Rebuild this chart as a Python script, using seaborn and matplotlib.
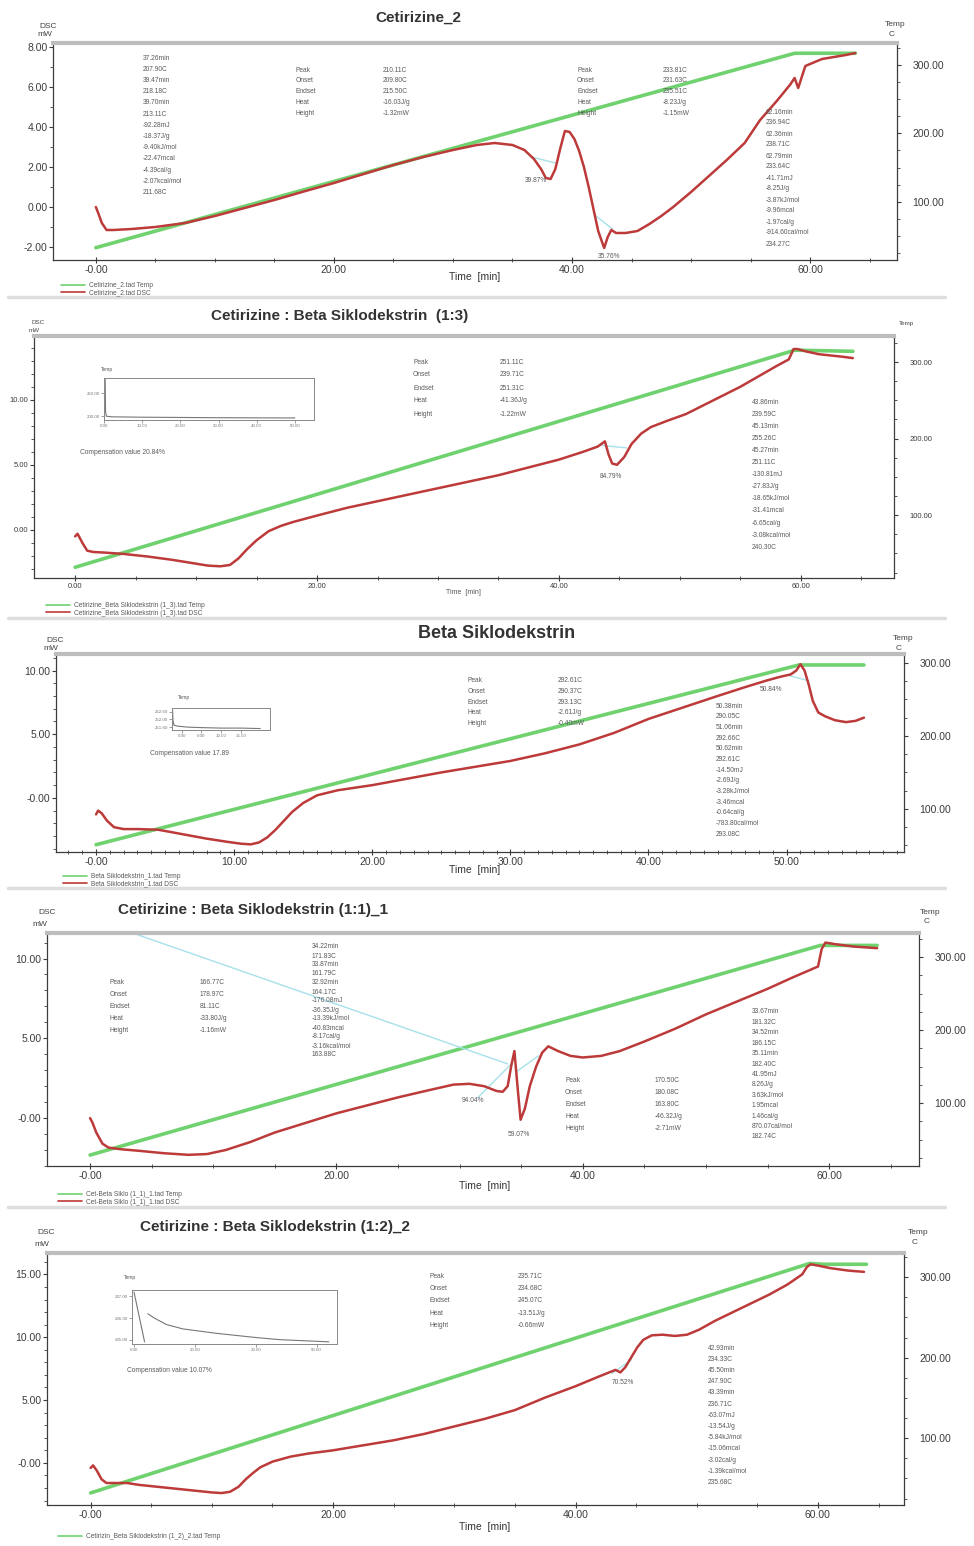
import matplotlib
matplotlib.use("Agg")
import matplotlib.pyplot as plt
import seaborn as sns
from matplotlib.lines import Line2D
from matplotlib.ticker import MultipleLocator

# ---------------------------------------------------------------- data
# Cetirizine_2
p1_t = [0.0, 0.2, 0.5, 0.9, 1.5, 3, 5, 7.5, 10, 12.5, 15, 17.5, 20, 22.5, 25, 27.5, 30, 32,
        33.5, 35, 36, 36.8, 37.4, 37.8, 38.2, 38.6, 39.0, 39.4, 39.8, 40.2, 40.6, 41.0, 41.4,
        41.8, 42.2, 42.7, 43.0, 43.3, 43.7, 44.5, 45.5, 46.5, 47.5, 48.5, 50, 51.5, 53, 54.5,
        55.8, 57.2, 58.3, 58.7, 59.0, 59.6, 60.2, 61, 62, 63, 63.8]
p1_mw = [0.0, -0.3, -0.8, -1.15, -1.15, -1.1, -1.0, -0.8, -0.45, -0.05, 0.35, 0.78, 1.2, 1.65,
         2.1, 2.5, 2.85, 3.1, 3.2, 3.1, 2.85, 2.4, 1.9, 1.45, 1.4, 1.9, 2.9, 3.8, 3.75, 3.4,
         2.8, 2.0, 1.0, -0.1, -1.2, -2.05, -1.5, -1.15, -1.3, -1.3, -1.2, -0.85, -0.45, 0.0,
         0.75, 1.55, 2.35, 3.2, 4.35, 5.3, 6.1, 6.45, 5.95, 7.05, 7.2, 7.4, 7.5, 7.6, 7.7]
p1_tt = [0.0, 58.7, 63.8]
p1_temp = [33.0, 317.0, 317.0]

# Cetirizine : Beta Siklodekstrin (1:3)
p2_t = [0, 0.2, 0.6, 1.0, 1.5, 2.5, 4, 6, 8, 10, 11, 12, 12.8, 13.5, 14.2, 15, 16, 17, 18, 20,
        22.5, 25, 27.5, 30, 32.5, 35, 37.5, 40, 42, 43.2, 43.8, 44.1, 44.4, 44.8, 45.4, 46,
        46.8, 47.6, 49, 50.5, 52, 53.5, 55, 56.5, 58, 59.0, 59.4, 59.7, 60.5, 61.5, 62.5, 63.5,
        64.3]
p2_mw = [-0.5, -0.3, -1.0, -1.6, -1.7, -1.75, -1.85, -2.05, -2.3, -2.6, -2.75, -2.8, -2.7,
         -2.2, -1.5, -0.8, -0.1, 0.3, 0.6, 1.1, 1.7, 2.2, 2.7, 3.2, 3.7, 4.2, 4.8, 5.4, 6.0, 6.4,
         6.8, 5.8, 5.1, 5.0, 5.6, 6.6, 7.4, 7.9, 8.4, 8.9, 9.6, 10.3, 11.0, 11.8, 12.6, 13.1,
         13.9, 13.9, 13.7, 13.5, 13.4, 13.3, 13.2]
p2_tt = [0.0, 59.5, 64.3]
p2_temp = [32.0, 315.5, 314.0]

# Beta Siklodekstrin
p3_t = [0, 0.15, 0.4, 0.8, 1.3, 2, 3, 4.5, 6, 8, 9.5, 10.5, 11.2, 11.8, 12.4, 13, 13.6, 14.2,
        15, 16, 17.5, 20, 22.5, 25, 27.5, 30, 32.5, 35, 37.5, 40, 42.5, 45, 47, 48.5, 49.5,
        50.3, 50.7, 51.0, 51.3, 51.6, 51.9, 52.3, 52.8, 53.5, 54.3, 55.0, 55.6]
p3_mw = [-1.3, -1.0, -1.2, -1.8, -2.3, -2.45, -2.45, -2.5, -2.8, -3.2, -3.45, -3.6, -3.65,
         -3.5, -3.1, -2.5, -1.8, -1.1, -0.4, 0.2, 0.6, 1.0, 1.5, 2.0, 2.45, 2.9, 3.5, 4.2, 5.1,
         6.2, 7.1, 8.0, 8.7, 9.2, 9.5, 9.7, 10.0, 10.5, 10.0, 8.9, 7.6, 6.7, 6.4, 6.1, 5.95,
         6.05, 6.3]
p3_tt = [0.0, 50.9, 55.6]
p3_temp = [51.0, 297.0, 297.0]

# Cetirizine : Beta Siklodekstrin (1:1)_1
p4_t = [0, 0.2, 0.5, 1.0, 1.5, 2.5, 4, 6, 8, 9.5, 11, 13, 15, 17.5, 20, 22.5, 25, 27.5, 29.5,
        30.8, 32, 33, 33.5, 33.9, 34.2, 34.45, 34.7, 34.95, 35.3, 35.7, 36.2, 36.7, 37.2, 38,
        39, 40, 41.5, 43, 45, 47.5, 50, 52.5, 55, 57, 58.5, 59.1, 59.4, 59.7, 60.5, 62, 63.9]
p4_mw = [0.0, -0.3, -0.9, -1.6, -1.85, -1.95, -2.05, -2.2, -2.3, -2.25, -2.0, -1.5, -0.9,
         -0.3, 0.3, 0.8, 1.3, 1.75, 2.1, 2.15, 2.0, 1.7, 1.65, 2.0, 3.3, 4.2, 2.0, -0.1, 0.6,
         2.0, 3.2, 4.1, 4.5, 4.2, 3.9, 3.8, 3.9, 4.2, 4.8, 5.6, 6.5, 7.3, 8.1, 8.8, 9.3, 9.5,
         10.6, 11.0, 10.9, 10.75, 10.65]
p4_tt = [0.0, 59.3, 63.9]
p4_temp = [29.0, 316.0, 316.0]

# Cetirizine : Beta Siklodekstrin (1:2)_2
p5_t = [0, 0.2, 0.5, 0.9, 1.3, 2, 3, 4, 5.5, 7, 8.5, 10, 10.8, 11.5, 12.2, 12.8, 13.4, 14, 15,
        16.5, 18, 20, 22.5, 25, 27.5, 30, 32.5, 35, 37.5, 40, 42, 43.3, 43.7, 44.1, 44.6, 45.1,
        45.6, 46.3, 47.2, 48.2, 49.2, 50.2, 51.5, 53, 54.5, 56, 57.5, 58.7, 59.1, 59.4, 60,
        61, 62.5, 63.8]
p5_mw = [-0.4, -0.2, -0.6, -1.3, -1.6, -1.6, -1.6, -1.75, -1.9, -2.05, -2.2, -2.35, -2.4,
         -2.3, -1.9, -1.3, -0.8, -0.35, 0.1, 0.5, 0.75, 1.0, 1.4, 1.8, 2.3, 2.9, 3.5, 4.2, 5.2,
         6.1, 6.9, 7.4, 7.2, 7.6, 8.4, 9.2, 9.8, 10.15, 10.2, 10.1, 10.2, 10.6, 11.3, 12.0,
         12.7, 13.4, 14.2, 15.0, 15.6, 15.8, 15.7, 15.5, 15.3, 15.2]
p5_tt = [0.0, 59.3, 60.5, 64.0]
p5_temp = [32.0, 317.0, 316.0, 316.0]

# integration baselines (time, mW)
p1_base = [([36.6, 38.6], [2.5, 2.2]), ([41.9, 43.4], [-0.4, -1.1])]
p2_base = [([43.4, 45.6], [6.5, 6.3])]
p3_base = [([50.2, 51.6], [9.6, 9.2])]
p4_base = [([3.6, 33.9], [11.56, 3.4]), ([31.5, 34.2], [1.3, 3.4]), ([34.6, 36.4], [2.9, 3.9])]
p5_base = [([43.0, 44.6], [7.1, 8.2])]

titles = ["Cetirizine_2", "Cetirizine : Beta Siklodekstrin  (1:3)", "Beta Siklodekstrin",
          "Cetirizine : Beta Siklodekstrin (1:1)_1", "Cetirizine : Beta Siklodekstrin (1:2)_2"]

legend_labels = [
    ["Cetirizine_2.tad Temp", "Cetirizine_2.tad DSC"],
    ["Cetirizine_Beta Siklodekstrin (1_3).tad Temp", "Cetirizine_Beta Siklodekstrin (1_3).tad DSC"],
    ["Beta Siklodekstrin_1.tad Temp", "Beta Siklodekstrin_1.tad DSC"],
    ["Cet-Beta Siklo (1_1)_1.tad Temp", "Cet-Beta Siklo (1_1)_1.tad DSC"],
    ["Cetirizin_Beta Siklodekstrin (1_2)_2.tad Temp"],
]

peak_keys = ["Peak", "Onset", "Endset", "Heat", "Height"]
p1_peak_a = ["210.11C", "209.80C", "215.50C", "-16.03J/g", "-1.32mW"]
p1_peak_b = ["233.81C", "231.63C", "235.51C", "-8.23J/g", "-1.15mW"]
p1_col_a = ["37.26min", "207.90C", "39.47min", "218.18C", "39.70min", "213.11C", "-92.28mJ",
            "-18.37J/g", "-9.40kJ/mol", "-22.47mcal", "-4.39cal/g", "-2.07kcal/mol", "211.68C"]
p1_col_b = ["62.16min", "236.94C", "62.36min", "238.71C", "62.79min", "233.64C", "-41.71mJ",
            "-8.25J/g", "-3.87kJ/mol", "-9.96mcal", "-1.97cal/g", "-914.60cal/mol", "234.27C"]
p2_peak = ["251.11C", "239.71C", "251.31C", "-41.36J/g", "-1.22mW"]
p2_col = ["43.86min", "239.59C", "45.13min", "255.26C", "45.27min", "251.11C", "-130.81mJ",
          "-27.83J/g", "-18.65kJ/mol", "-31.41mcal", "-6.65cal/g", "-3.08kcal/mol", "240.30C"]
p3_peak = ["292.61C", "290.37C", "293.13C", "-2.61J/g", "-0.40mW"]
p3_col = ["50.38min", "290.05C", "51.06min", "292.66C", "50.62min", "292.61C", "-14.50mJ",
          "-2.69J/g", "-3.28kJ/mol", "-3.46mcal", "-0.64cal/g", "-783.80cal/mol", "293.08C"]
p4_peak_a = ["166.77C", "178.97C", "81.11C", "-33.80J/g", "-1.16mW"]
p4_peak_b = ["170.50C", "180.08C", "163.80C", "-46.32J/g", "-2.71mW"]
p4_col_a = ["34.22min", "171.83C", "33.87min", "161.79C", "32.92min", "164.17C", "-176.08mJ",
            "-36.35J/g", "-13.39kJ/mol", "-40.83mcal", "-8.17cal/g", "-3.16kcal/mol", "163.88C"]
p4_col_b = ["33.67min", "181.32C", "34.52min", "186.15C", "35.11min", "182.40C", "41.95mJ",
            "8.26J/g", "3.63kJ/mol", "1.95mcal", "1.46cal/g", "870.07cal/mol", "182.74C"]
p5_peak = ["235.71C", "234.68C", "245.07C", "-13.51J/g", "-0.66mW"]
p5_col = ["42.93min", "234.33C", "45.50min", "247.90C", "43.39min", "236.71C", "-63.07mJ",
          "-13.54J/g", "-5.84kJ/mol", "-15.06mcal", "-3.02cal/g", "-1.39kcal/mol", "235.68C"]

# small compensation insets (time, temperature)
ins2_t = [0.3, 0.4, 0.6, 2, 10, 20, 30, 40, 50]
ins2_v = [262, 236, 232, 231.5, 231.2, 231.0, 230.8, 230.7, 230.6]
ins3_t = [0.3, 0.5, 1.0, 3, 8, 15, 25, 35, 45]
ins3_v = [252.6, 251.5, 251.0, 250.9, 250.8, 250.75, 250.7, 250.7, 250.65]
ins5_t_a = [0.0, 2.6]
ins5_v_a = [237.2, 234.9]
ins5_t_b = [3.4, 5, 8, 12, 16, 20, 25, 30, 36, 42, 48]
ins5_v_b = [236.2, 236.0, 235.7, 235.5, 235.4, 235.3, 235.2, 235.1, 235.0, 234.95, 234.9]

# ---------------------------------------------------------------- style
sns.set_theme(style="white")
plt.rcParams['font.family'] = ['Liberation Sans', 'DejaVu Sans']

GREEN = '#6fd26f'
RED = '#bd3a3a'
CYAN = '#a6e1ea'
TXT = '#5a5a5a'
AX = '#3c3c3c'

W, H = 974, 1546
fig = plt.figure(figsize=(W / 100, H / 100), dpi=100)
fig.patch.set_facecolor('white')


def fx(x):
    return x / W


def fy(y):
    return 1 - y / H


def ftext(x, y, s, **kw):
    kw.setdefault('fontsize', 4.8)
    kw.setdefault('color', TXT)
    kw.setdefault('va', 'center')
    fig.text(fx(x), fy(y), s, **kw)


def column(x, y0, dy, lines, **kw):
    for i, s in enumerate(lines):
        ftext(x, y0 + i * dy, s, **kw)


def keyed(xk, xv, y0, dy, values, **kw):
    column(xk, y0, dy, peak_keys, **kw)
    column(xv, y0, dy, values, **kw)


def panel(box, t, mw, tt, temp, bases, xlim, ylim, tlim, xt, xl, yt, yl, xminor, yminor,
          labelsize=7.5):
    left, top, right, bottom = box
    ax = fig.add_axes([fx(left), fy(bottom), (right - left) / W, (bottom - top) / H])
    ax2 = ax.twinx()
    sns.lineplot(x=tt, y=temp, ax=ax2, color=GREEN, lw=2.6, estimator=None, legend=False)
    for bx, by in bases:
        sns.lineplot(x=bx, y=by, ax=ax, color=CYAN, lw=1.0, estimator=None, legend=False)
    sns.lineplot(x=t, y=mw, ax=ax, color=RED, lw=1.8, estimator=None, legend=False)
    ax.set_zorder(ax2.get_zorder() + 1)
    ax.patch.set_visible(False)

    ax.set_xlim(*xlim)
    ax.set_ylim(*ylim)
    ax2.set_ylim(*tlim)
    ax.set_xlabel('')
    ax.set_ylabel('')
    ax2.set_ylabel('')

    ax.set_xticks(xt)
    ax.set_xticklabels(xl)
    ax.set_yticks(yt)
    ax.set_yticklabels(yl)
    ax2.set_yticks([100, 200, 300])
    ax2.set_yticklabels(["100.00", "200.00", "300.00"])
    ax.xaxis.set_minor_locator(MultipleLocator(xminor))
    ax.yaxis.set_minor_locator(MultipleLocator(yminor))
    ax2.yaxis.set_minor_locator(MultipleLocator(25))

    for a in (ax, ax2):
        for s in a.spines.values():
            s.set_visible(False)
    for side in ('left', 'bottom'):
        ax.spines[side].set_visible(True)
        ax.spines[side].set_color(AX)
        ax.spines[side].set_linewidth(0.9)
    ax.spines['top'].set_visible(True)
    ax.spines['top'].set_color('#bdbdbd')
    ax.spines['top'].set_linewidth(3.0)
    ax2.spines['right'].set_visible(True)
    ax2.spines['right'].set_color(AX)
    ax2.spines['right'].set_linewidth(0.9)

    ax.tick_params(axis='x', which='major', direction='inout', length=5, width=0.8,
                   colors=AX, labelsize=labelsize, pad=1, bottom=True)
    ax.tick_params(axis='x', which='minor', direction='inout', length=3, width=0.6,
                   colors=AX, bottom=True)
    ax.tick_params(axis='y', which='major', direction='out', length=3, width=0.8,
                   colors=AX, labelsize=labelsize, pad=1, left=True)
    ax.tick_params(axis='y', which='minor', direction='out', length=2, width=0.6,
                   colors=AX, left=True)
    ax2.tick_params(axis='y', which='major', direction='out', length=3, width=0.8,
                    colors=AX, labelsize=labelsize, pad=8, right=True)
    ax2.tick_params(axis='y', which='minor', direction='out', length=2, width=0.6,
                    colors=AX, right=True)
    return ax


def legend(x, y, labels):
    handles = [Line2D([], [], color=c, lw=1.2) for c in (GREEN, RED)][:len(labels)]
    fig.legend(handles, labels, loc='upper left', bbox_to_anchor=(fx(x), fy(y)),
               fontsize=4.8, frameon=False, handlelength=3.5, labelspacing=0.05,
               borderpad=0, handletextpad=0.6, labelcolor=TXT)


def inset(box, series, ylim, xlim, yt, yl, xt, xl):
    left, top, right, bottom = box
    ia = fig.add_axes([fx(left), fy(bottom), (right - left) / W, (bottom - top) / H])
    for sx, sy in series:
        sns.lineplot(x=sx, y=sy, ax=ia, color='#777777', lw=0.8, estimator=None, legend=False)
    ia.set_xlim(*xlim)
    ia.set_ylim(*ylim)
    ia.set_xlabel('')
    ia.set_ylabel('')
    ia.set_yticks(yt)
    ia.set_yticklabels(yl)
    ia.set_xticks(xt)
    ia.set_xticklabels(xl)
    for s in ia.spines.values():
        s.set_color('#888888')
        s.set_linewidth(0.7)
    ia.tick_params(direction='out', length=2, width=0.5, labelsize=3.2, pad=1,
                   colors='#777777', left=True, bottom=True)
    return ia


def separator(y):
    fig.add_artist(Line2D([fx(8), fx(945)], [fy(y), fy(y)], color='#dedede', lw=2.5))


for y in (297, 618, 888, 1207):
    separator(y)

# ---------------------------------------------------------------- panel 1
panel((53, 43, 897, 260), p1_t, p1_mw, p1_tt, p1_temp, p1_base,
      (-3.6, 67.3), (-2.65, 8.2), (15, 332),
      [0, 20, 40, 60], ["-0.00", "20.00", "40.00", "60.00"],
      [-2, 0, 2, 4, 6, 8], ["-2.00", "0.00", "2.00", "4.00", "6.00", "8.00"], 5, 1)
ftext(418, 18, titles[0], fontsize=11, fontweight='bold', color='#333333', ha='center')
ftext(48, 27, "DSC", fontsize=6, color='#444444', ha='center')
ftext(45, 35, "mW", fontsize=6, color='#444444', ha='center')
ftext(895, 25, "Temp", fontsize=6, color='#444444', ha='center')
ftext(889, 34, "C", fontsize=6, color='#444444')
ftext(475, 277, "Time  [min]", fontsize=7.5, color='#333333', ha='center')
column(143, 58, 11.2, p1_col_a)
keyed(296, 383, 70, 10.8, p1_peak_a)
keyed(577, 663, 70, 10.8, p1_peak_b)
column(766, 112, 11.0, p1_col_b)
ftext(525, 181, "39.87%")
ftext(598, 256, "35.76%")
legend(58, 279, legend_labels[0])

# ---------------------------------------------------------------- panel 2
panel((34, 336, 894, 578), p2_t, p2_mw, p2_tt, p2_temp, p2_base,
      (-3.4, 67.7), (-3.7, 14.9), (18, 334),
      [0, 20, 40, 60], ["0.00", "20.00", "40.00", "60.00"],
      [0, 5, 10], ["0.00", "5.00", "10.00"], 5, 1, labelsize=5.5)
ftext(340, 316, titles[1], fontsize=11, fontweight='bold', color='#333333', ha='center')
ftext(38, 323, "DSC", fontsize=4.5, color='#444444', ha='center')
ftext(34, 330, "mW", fontsize=4.5, color='#444444', ha='center')
ftext(906, 324, "Temp", fontsize=4.5, color='#444444', ha='center')
ftext(463, 593, "Time  [min]", fontsize=5, color='#555555', ha='center')
inset((104, 378, 314, 420), [(ins2_t, ins2_v)], (229, 262), (0, 55),
      [232, 250], ["200.00", "250.00"], [0, 10, 20, 30, 40, 50],
      ["0.00", "10.00", "20.00", "30.00", "40.00", "50.00"])
ftext(101, 369, "Temp", fontsize=3.5)
ftext(80, 453, "Compensation value 20.84%", fontsize=4.8)
keyed(413, 500, 362, 13.0, p2_peak)
column(752, 402, 12.1, p2_col)
ftext(600, 477, "84.79%")
legend(43, 599, legend_labels[1])

# ---------------------------------------------------------------- panel 3
panel((56, 654, 904, 852), p3_t, p3_mw, p3_tt, p3_temp, p3_base,
      (-2.9, 58.5), (-4.25, 11.3), (41, 312),
      [0, 10, 20, 30, 40, 50], ["-0.00", "10.00", "20.00", "30.00", "40.00", "50.00"],
      [0, 5, 10], ["-0.00", "5.00", "10.00"], 1, 1)
ftext(497, 634, titles[2], fontsize=13, fontweight='bold', color='#333333', ha='center')
ftext(55, 640, "DSC", fontsize=6, color='#444444', ha='center')
ftext(51, 648, "mW", fontsize=6, color='#444444', ha='center')
ftext(903, 639, "Temp", fontsize=6, color='#444444', ha='center')
ftext(896, 648, "C", fontsize=6, color='#444444')
ftext(475, 870, "Time  [min]", fontsize=7.5, color='#333333', ha='center')
inset((172, 708, 270, 730), [(ins3_t, ins3_v)], (250.5, 252.8), (0, 50),
      [250.8, 251.6, 252.4], ["251.60", "252.00", "252.60"], [5, 15, 25, 35],
      ["0.00", "5.00", "10.00", "15.00"])
ftext(178, 697, "Temp", fontsize=3.5)
ftext(150, 753, "Compensation value 17.89", fontsize=4.8)
keyed(468, 558, 681, 10.6, p3_peak)
column(716, 706, 10.7, p3_col)
ftext(760, 690, "50.84%")
legend(60, 870, legend_labels[2])

# ---------------------------------------------------------------- panel 4
panel((47, 933, 919, 1166), p4_t, p4_mw, p4_tt, p4_temp, p4_base,
      (-3.5, 67.3), (-3.0, 11.6), (14, 333),
      [0, 20, 40, 60], ["-0.00", "20.00", "40.00", "60.00"],
      [0, 5, 10], ["-0.00", "5.00", "10.00"], 5, 1)
ftext(118, 910, titles[3], fontsize=11, fontweight='bold', color='#333333', ha='left')
ftext(47, 913, "DSC", fontsize=6, color='#444444', ha='center')
ftext(40, 924, "mW", fontsize=6, color='#444444', ha='center')
ftext(930, 912, "Temp", fontsize=6, color='#444444', ha='center')
ftext(924, 922, "C", fontsize=6, color='#444444')
ftext(485, 1186, "Time  [min]", fontsize=7.5, color='#333333', ha='center')
keyed(110, 200, 983, 11.8, p4_peak_a)
column(312, 947, 9.0, p4_col_a)
keyed(565, 655, 1081, 11.8, p4_peak_b)
column(752, 1012, 10.4, p4_col_b)
ftext(462, 1100, "94.04%")
ftext(508, 1134, "59.07%")
legend(55, 1188, legend_labels[3])

# ---------------------------------------------------------------- panel 5
panel((47, 1253, 904, 1505), p5_t, p5_mw, p5_tt, p5_temp, p5_base,
      (-3.6, 67.1), (-3.35, 16.7), (17, 330),
      [0, 20, 40, 60], ["-0.00", "20.00", "40.00", "60.00"],
      [0, 5, 10, 15], ["-0.00", "5.00", "10.00", "15.00"], 5, 1)
ftext(140, 1227, titles[4], fontsize=11, fontweight='bold', color='#333333', ha='left')
ftext(46, 1233, "DSC", fontsize=6, color='#444444', ha='center')
ftext(42, 1244, "mW", fontsize=6, color='#444444', ha='center')
ftext(918, 1232, "Temp", fontsize=6, color='#444444', ha='center')
ftext(912, 1242, "C", fontsize=6, color='#444444')
ftext(485, 1527, "Time  [min]", fontsize=7.5, color='#333333', ha='center')
inset((132, 1290, 337, 1344), [(ins5_t_a, ins5_v_a), (ins5_t_b, ins5_v_b)], (234.8, 237.3),
      (-0.5, 50), [235.0, 236.0, 237.0], ["235.00", "236.00", "237.00"], [0, 15, 30, 45],
      ["0.00", "20.00", "30.00", "50.00"])
ftext(124, 1278, "Temp", fontsize=3.5)
ftext(127, 1370, "Compensation value 10.07%", fontsize=4.8)
keyed(430, 518, 1276, 12.4, p5_peak)
column(708, 1348, 11.2, p5_col)
ftext(612, 1383, "70.52%")
legend(55, 1530, legend_labels[4])

fig.savefig("out.png", dpi=100, facecolor='white')
